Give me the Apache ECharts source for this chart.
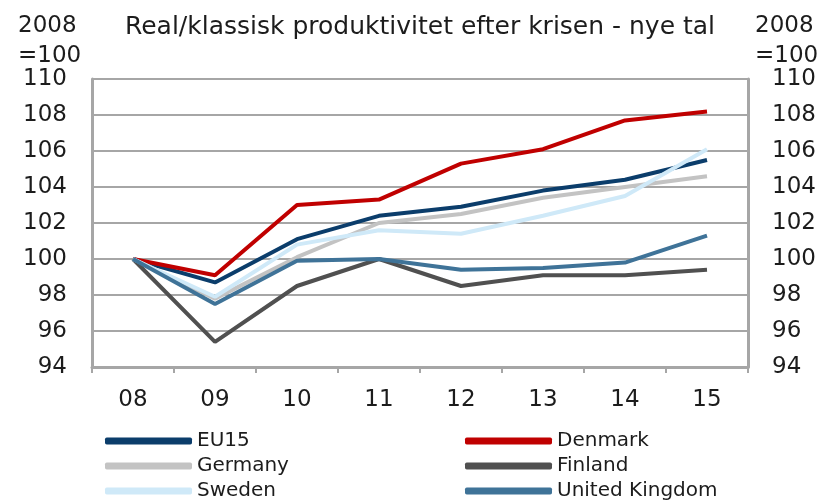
<!DOCTYPE html>
<html>
<head>
<meta charset="utf-8">
<script src="https://cdn.jsdelivr.net/npm/echarts@6/dist/echarts.min.js"></script>
<style>
  html, body { margin: 0; padding: 0; background: #fff; }
  #chart { width: 819px; height: 504px; }
</style>
</head>
<body>
<div id="chart"></div>
<script>
// Real/klassisk produktivitet, 2008 = 100
const years = ['08', '09', '10', '11', '12', '13', '14', '15'];

const eu15 = [100, 98.7, 101.1, 102.4, 102.9, 103.8, 104.4, 105.5];
const denmark = [100, 99.1, 103.0, 103.3, 105.3, 106.1, 107.7, 108.2];
const germany = [100, 97.8, 100.1, 102.0, 102.5, 103.4, 104.0, 104.6];
const finland = [100, 95.4, 98.5, 100.0, 98.5, 99.1, 99.1, 99.4];
const sweden = [100, 97.9, 100.8, 101.6, 101.4, 102.4, 103.5, 106.1];
const uk = [100, 97.5, 99.9, 100.0, 99.4, 99.5, 99.8, 101.3];

const yTicks = { min: 94, max: 110, interval: 2 };

const font = 'DejaVu Sans, Verdana, sans-serif';
const textColor = '#1c1c1c';
const gridColor = '#a6a6a6';

const chart = echarts.init(document.getElementById('chart'));

const lineSeries = (name, data, color) => ({
  name,
  type: 'line',
  data,
  symbol: 'none',
  lineStyle: { width: 4, color },
  itemStyle: { color }
});

const yAxisBase = (position) => ({
  type: 'value',
  position,
  min: yTicks.min,
  max: yTicks.max,
  interval: yTicks.interval,
  axisLine: { show: true, lineStyle: { color: gridColor, width: 3 } },
  axisTick: { show: false },
  axisLabel: { color: textColor, fontSize: 23, fontFamily: font, margin: position === 'left' ? 25 : 24 },
  splitLine: { show: position === 'left', lineStyle: { color: gridColor, width: 2 } }
});

const legendBase = {
  orient: 'vertical',
  top: 431,
  padding: 0,
  itemWidth: 87,
  itemHeight: 7,
  itemGap: 5,
  itemTextGap: 5,
  icon: 'roundRect',
  textStyle: { color: textColor, fontSize: 20, lineHeight: 20, fontFamily: font }
};

const unitLabel = (left) => ({
  text: '2008\n=100',
  left, top: 6,
  textStyle: { color: textColor, fontSize: 23, fontWeight: 'normal', fontFamily: font, lineHeight: 30 }
});

chart.setOption({
  animation: false,
  title: [
    {
      text: 'Real/klassisk produktivitet efter krisen - nye tal',
      left: 415, top: 10, textAlign: 'center',
      textStyle: { color: textColor, fontSize: 25, fontWeight: 'normal', fontFamily: font }
    },
    unitLabel(13),
    unitLabel(750)
  ],
  grid: { left: 92, right: 71, top: 79, bottom: 137 },
  xAxis: {
    type: 'category',
    data: years,
    boundaryGap: true,
    axisLine: { lineStyle: { color: gridColor, width: 3 } },
    axisTick: { show: true, length: 6, lineStyle: { color: gridColor, width: 2 } },
    axisLabel: { color: textColor, fontSize: 23, fontFamily: font, margin: 22 }
  },
  yAxis: [yAxisBase('left'), yAxisBase('right')],
  legend: [
    Object.assign({}, legendBase, { left: 105, data: ['EU15', 'Germany', 'Sweden'] }),
    Object.assign({}, legendBase, { left: 465, data: ['Denmark', 'Finland', 'United Kingdom'] })
  ],
  series: [
    lineSeries('EU15', eu15, '#0b3d6b'),
    lineSeries('Denmark', denmark, '#c00000'),
    lineSeries('Germany', germany, '#c3c3c3'),
    lineSeries('Finland', finland, '#505050'),
    lineSeries('Sweden', sweden, '#cfe9f8'),
    lineSeries('United Kingdom', uk, '#3f7398')
  ]
});
</script>
</body>
</html>
